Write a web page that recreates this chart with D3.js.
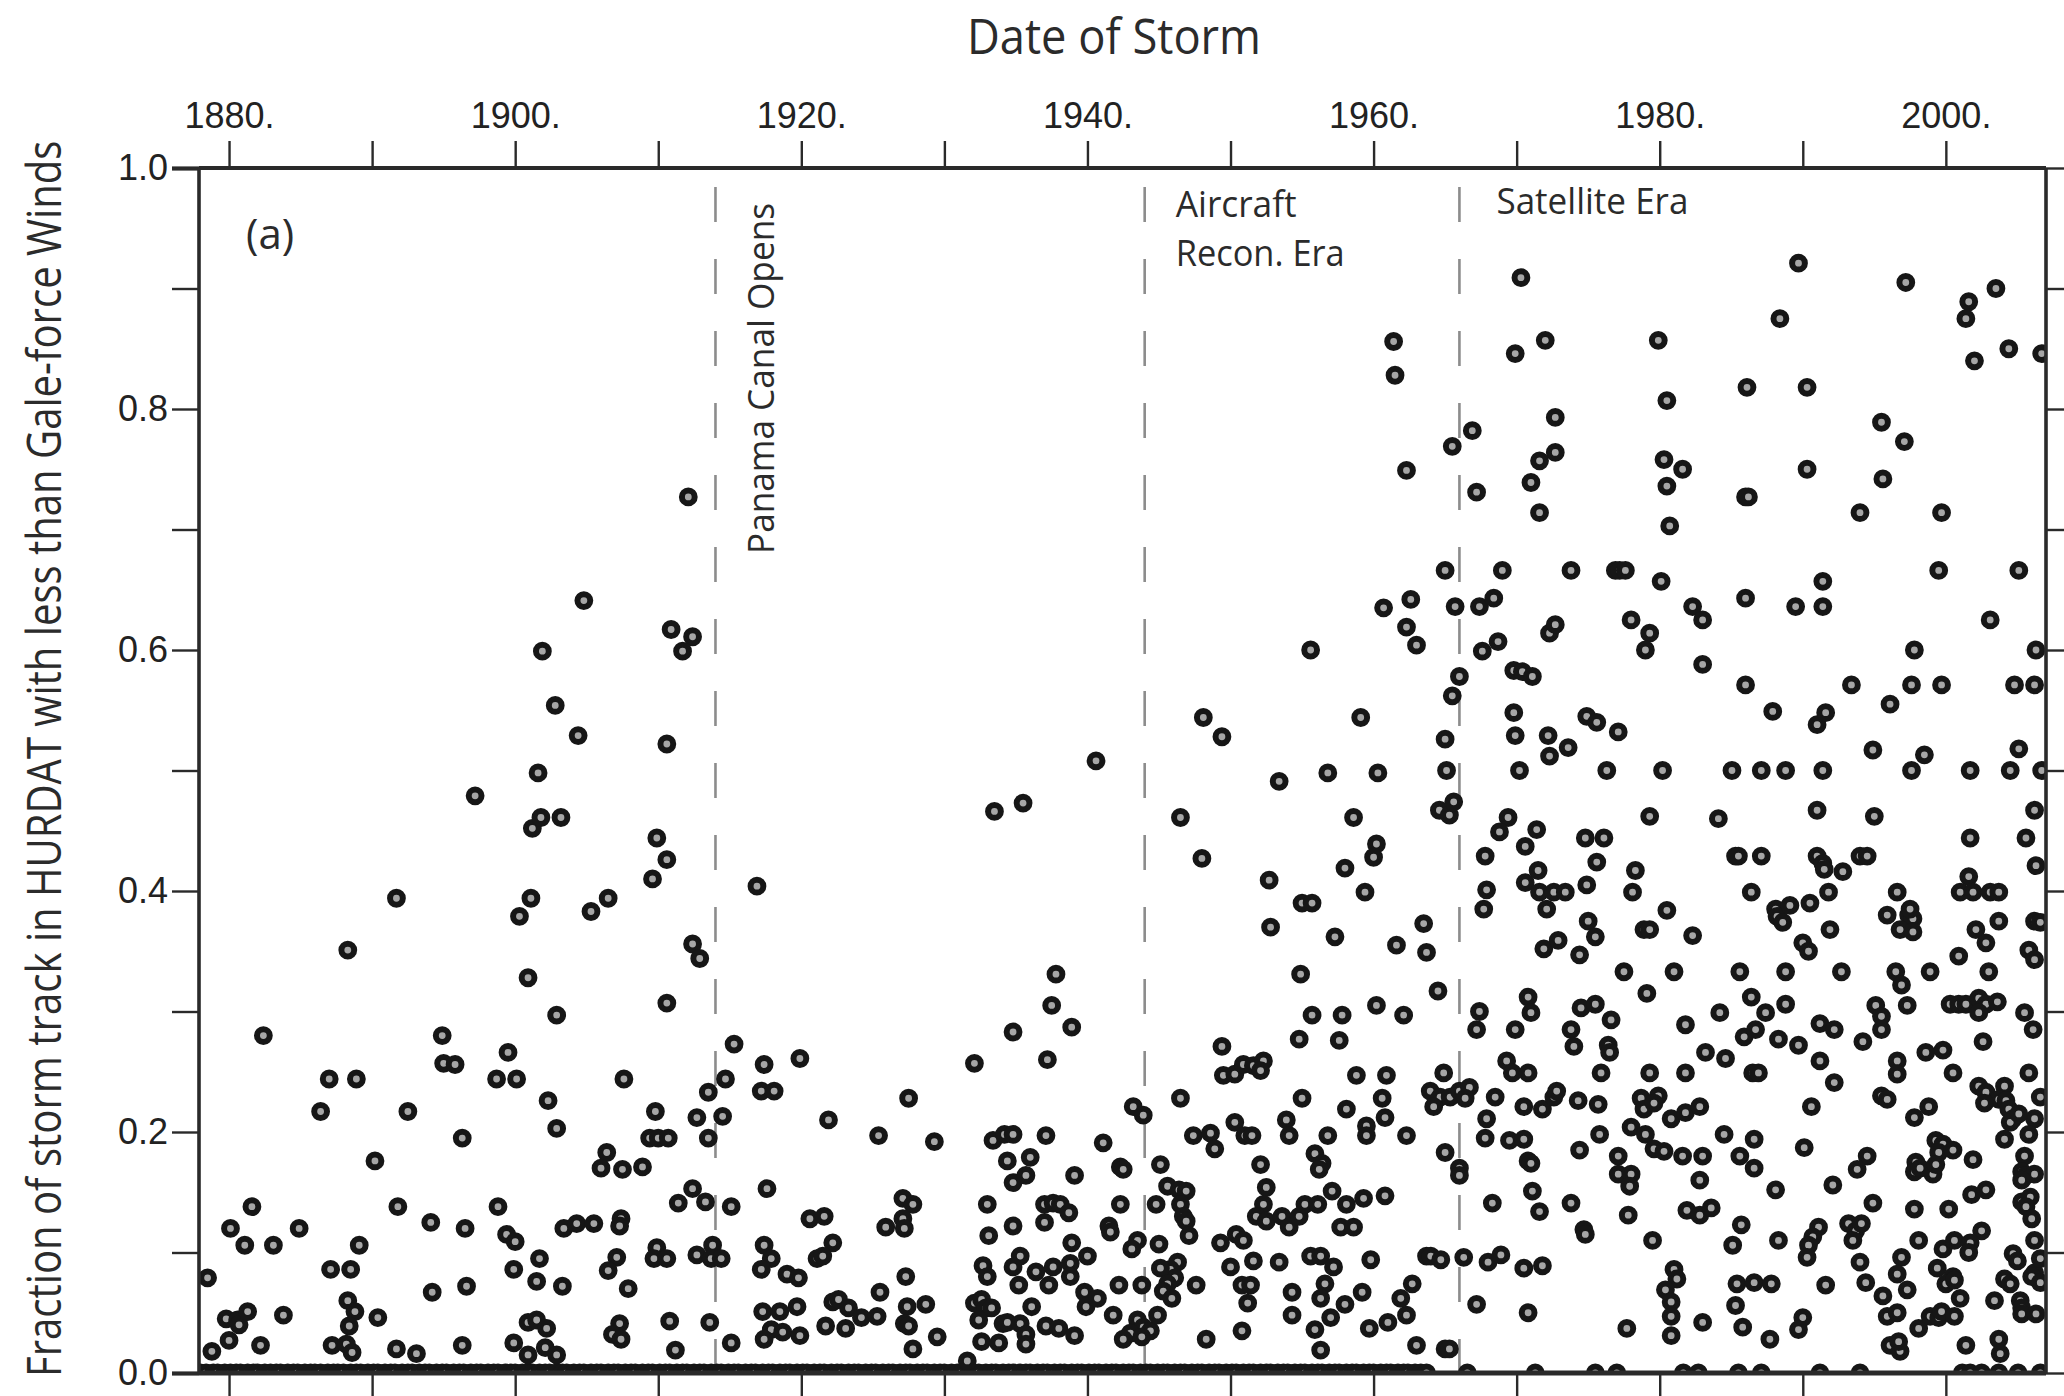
<!DOCTYPE html>
<html>
<head>
<meta charset="utf-8">
<script src="https://cdn.jsdelivr.net/npm/d3@7"></script>
<style>
  html, body { margin: 0; padding: 0; background: #ffffff; }
  svg { display: block; }
</style>
</head>
<body>
<svg id="chart" width="2064" height="1396"></svg>
<script>
// Axis ticks and labels
const decadeTicks = [1880, 1890, 1900, 1910, 1920, 1930, 1940, 1950, 1960, 1970, 1980, 1990, 2000];
const labelledYears = [1880, 1900, 1920, 1940, 1960, 1980, 2000];
const fractionTicks = [0, 0.1, 0.2, 0.3, 0.4, 0.5, 0.6, 0.7, 0.8, 0.9, 1.0];
const labelledFractions = [0, 0.2, 0.4, 0.6, 0.8, 1.0];

// Observing-era boundaries (dashed lines)
const eraYears = [1914, 1944, 1966];

// Storms: [year, fraction of track below gale force]
const stormsBeforeCanal = [
  [1878.5,0.079],[1878.8,0.018],[1880.1,0.120],[1879.8,0.045],[1880.6,0.044],[1880.7,0.040],[1880.0,0.027],
  [1881.3,0.051],[1881.1,0.106],[1881.6,0.138],[1882.4,0.280],[1882.2,0.023],[1883.1,0.106],[1883.8,0.048],
  [1884.9,0.120],[1886.4,0.217],[1887.0,0.244],[1887.1,0.086],[1887.2,0.023],[1888.3,0.351],[1888.5,0.086],
  [1888.3,0.060],[1888.8,0.051],[1888.4,0.039],[1888.2,0.024],[1888.6,0.017],[1888.9,0.244],[1889.1,0.106],
  [1890.2,0.176],[1890.4,0.046],[1891.7,0.394],[1891.8,0.138],[1892.5,0.217],[1891.7,0.020],[1893.1,0.016],
  [1894.1,0.125],[1894.2,0.067],[1894.9,0.280],[1895.0,0.257],[1895.8,0.256],[1896.3,0.195],[1896.5,0.120],
  [1896.6,0.072],[1896.3,0.023],[1897.2,0.479],[1898.7,0.244],[1899.5,0.266],[1900.1,0.244],[1898.8,0.138],
  [1899.4,0.115],[1900.0,0.109],[1899.9,0.086],[1899.9,0.025],[1900.9,0.015],[1900.9,0.042],[1901.5,0.044],
  [1902.2,0.037],[1902.1,0.021],[1902.9,0.015],[1901.5,0.076],[1901.7,0.095],[1903.3,0.072],[1900.3,0.379],
  [1901.1,0.394],[1901.2,0.452],[1901.8,0.461],[1903.2,0.461],[1900.9,0.328],[1902.9,0.297],[1902.3,0.226],
  [1902.9,0.203],[1903.4,0.120],[1904.3,0.124],[1905.5,0.124],[1905.3,0.383],[1906.5,0.394],[1906.4,0.183],
  [1906.0,0.170],[1907.5,0.169],[1908.9,0.171],[1907.6,0.244],[1907.4,0.128],[1907.3,0.122],[1907.1,0.096],
  [1906.5,0.085],[1907.9,0.070],[1907.3,0.041],[1906.8,0.032],[1907.4,0.028],[1909.9,0.444],[1910.6,0.426],
  [1909.6,0.410],[1910.6,0.307],[1909.8,0.217],[1909.4,0.195],[1910.0,0.195],[1910.7,0.195],[1909.9,0.104],
  [1909.7,0.095],[1910.6,0.095],[1910.8,0.043],[1911.2,0.019],[1911.4,0.141],[1912.4,0.153],[1913.3,0.142],
  [1912.4,0.356],[1912.9,0.344],[1912.7,0.212],[1913.5,0.233],[1913.5,0.195],[1912.7,0.098],[1913.8,0.106],
  [1913.7,0.095],[1913.6,0.042],
  [1912.1,0.727],[1904.8,0.641],[1910.9,0.617],[1912.4,0.611],[1911.7,0.599],[1901.9,0.599],[1902.8,0.554],
  [1904.4,0.529],[1910.6,0.522],[1901.6,0.498]
];

const stormsCanalEra = [
  [1914.4,0.095],[1914.7,0.244],[1914.5,0.213],[1915.3,0.273],[1916.9,0.404],[1915.1,0.138],[1915.1,0.025],
  [1917.4,0.256],[1917.2,0.234],[1918.1,0.234],[1917.6,0.153],[1917.4,0.106],[1917.9,0.095],[1917.2,0.086],
  [1917.3,0.051],[1918.5,0.051],[1919.7,0.055],[1917.9,0.036],[1917.4,0.028],[1918.7,0.034],[1919.9,0.031],
  [1919.0,0.082],[1919.8,0.079],[1919.9,0.261],[1920.6,0.128],[1921.1,0.095],
  [1921.6,0.130],[1921.9,0.210],[1922.2,0.108],[1921.5,0.097],[1925.4,0.197],[1927.5,0.228],[1929.3,0.192],
  [1927.1,0.145],[1927.8,0.140],[1927.1,0.128],[1927.2,0.120],[1925.9,0.121],[1927.3,0.080],[1925.5,0.067],
  [1922.2,0.059],[1922.6,0.061],[1923.3,0.054],[1924.2,0.046],[1925.3,0.047],[1921.7,0.039],[1923.1,0.037],
  [1927.4,0.055],[1928.7,0.057],[1927.2,0.041],[1927.5,0.039],[1929.5,0.030],[1927.8,0.020],[1931.6,0.010],
  [1932.1,0.257],[1933.5,0.466],[1935.5,0.473],[1934.8,0.283],[1937.2,0.260],[1937.5,0.305],[1937.8,0.331],
  [1938.9,0.287],[1933.4,0.193],[1934.2,0.198],[1934.8,0.198],[1937.1,0.197],[1934.4,0.176],[1936.0,0.179],
  [1934.8,0.158],[1935.7,0.164],[1939.1,0.164],[1941.1,0.191],[1942.3,0.171],[1942.5,0.169],[1943.2,0.221],
  [1943.9,0.214],[1933.0,0.140],[1933.1,0.114],[1934.8,0.122],[1937.0,0.140],[1937.6,0.141],[1938.1,0.140],
  [1937.0,0.125],[1938.7,0.133],[1941.5,0.122],[1941.6,0.117],[1942.3,0.140],[1938.9,0.108],[1940.0,0.097],
  [1935.3,0.097],[1932.7,0.089],[1933.0,0.080],[1934.8,0.088],[1935.2,0.073],[1936.4,0.084],[1937.6,0.088],
  [1937.3,0.073],[1938.8,0.091],[1938.8,0.080],[1932.1,0.058],[1932.6,0.061],[1932.9,0.054],[1933.3,0.054],
  [1932.4,0.044],[1932.6,0.026],[1933.8,0.025],[1934.1,0.041],[1934.4,0.042],[1935.3,0.041],[1935.7,0.032],
  [1935.7,0.024],[1936.1,0.055],[1937.1,0.039],[1938.0,0.037],[1939.1,0.031],[1939.8,0.067],[1939.9,0.055],
  [1940.7,0.062],[1941.8,0.048],[1942.2,0.073],[1943.8,0.073],[1943.5,0.110],[1943.1,0.103],[1943.5,0.044],
  [1943.9,0.038],[1944.4,0.035],[1943.0,0.033],[1942.5,0.028],[1943.8,0.030],[1940.6,0.508]
];

const stormsReconEra = [
  [1944.8,0.140],[1945.0,0.107],[1944.9,0.048],[1945.1,0.173],[1946.5,0.228],[1946.5,0.461],[1948.0,0.427],
  [1945.6,0.155],[1946.4,0.152],[1946.9,0.151],[1946.5,0.140],[1946.7,0.130],[1946.9,0.126],[1947.1,0.114],
  [1946.3,0.092],[1945.8,0.086],[1946.1,0.079],[1945.1,0.087],[1945.6,0.074],[1945.3,0.068],[1945.9,0.062],
  [1947.6,0.073],[1948.3,0.028],[1947.4,0.197],[1948.6,0.199],[1948.9,0.186],[1949.4,0.271],[1949.5,0.247],
  [1950.3,0.248],[1950.9,0.256],[1951.6,0.255],[1952.3,0.259],[1952.1,0.251],[1950.3,0.208],[1951.0,0.197],
  [1951.5,0.197],[1952.1,0.173],[1952.7,0.409],[1952.8,0.370],[1953.4,0.491],[1954.9,0.331],[1955.0,0.390],
  [1955.7,0.390],[1956.8,0.498],[1957.3,0.362],[1958.0,0.419],[1958.6,0.461],[1959.4,0.399],[1960.2,0.439],
  [1960.0,0.428],[1960.3,0.498],[1954.8,0.277],[1955.7,0.297],[1957.8,0.297],[1957.6,0.276],[1955.0,0.228],
  [1958.8,0.247],[1960.9,0.247],[1960.6,0.228],[1960.2,0.305],[1962.1,0.297],[1961.6,0.355],[1963.5,0.373],
  [1963.7,0.349],[1958.1,0.219],[1960.8,0.212],[1959.5,0.205],[1959.5,0.197],[1962.3,0.197],[1953.9,0.210],
  [1954.1,0.197],[1956.8,0.197],[1955.9,0.182],[1956.4,0.174],[1956.2,0.169],[1952.5,0.154],[1952.3,0.140],
  [1951.8,0.130],[1952.5,0.126],[1953.6,0.130],[1954.1,0.121],[1954.8,0.130],[1955.2,0.140],[1956.1,0.140],
  [1957.1,0.151],[1958.1,0.140],[1957.7,0.121],[1958.6,0.121],[1959.3,0.145],[1960.8,0.147],[1949.3,0.108],
  [1950.4,0.115],[1950.9,0.110],[1950.0,0.088],[1951.6,0.093],[1950.8,0.073],[1951.4,0.073],[1951.2,0.058],
  [1950.8,0.035],[1953.4,0.092],[1954.3,0.067],[1954.3,0.048],[1955.6,0.097],[1956.3,0.097],[1957.2,0.088],
  [1956.6,0.074],[1956.3,0.062],[1957.0,0.046],[1955.9,0.036],[1956.3,0.019],[1958.0,0.057],[1959.2,0.067],
  [1959.8,0.094],[1959.7,0.037],[1961.0,0.042],[1962.3,0.048],[1962.7,0.074],[1961.9,0.062],[1963.0,0.023],
  [1963.7,0.097],
  [1961.4,0.856],[1961.5,0.828],[1962.3,0.749],[1960.7,0.635],[1962.6,0.642],[1962.3,0.619],[1963.0,0.604],
  [1955.6,0.600],[1948.1,0.544],[1949.4,0.528],[1959.1,0.544],
  [1964.6,0.467],[1965.3,0.463],[1965.6,0.474],[1964.5,0.317],[1964.9,0.249],[1963.96,0.234],[1964.65,0.229],
  [1965.35,0.229],[1966.0,0.234],[1964.2,0.221],[1965.0,0.183],[1966.0,0.170],[1966.0,0.164],[1964.0,0.097],
  [1964.7,0.094],[1965.0,0.020],[1965.3,0.020],
  [1965.5,0.769],[1965.0,0.666],[1965.7,0.636],[1966.0,0.578],[1965.5,0.562],[1965.0,0.526],[1965.1,0.5]
];

const stormsSatelliteEra = [
  [1970.3,0.909],[1969.9,0.846],[1972.0,0.857],[1966.9,0.782],[1972.7,0.793],[1972.7,0.764],[1971.6,0.757],
  [1971.0,0.739],[1967.2,0.731],[1971.6,0.714],[1969.0,0.666],[1973.8,0.666],[1976.9,0.666],[1977.2,0.666],
  [1977.6,0.666],[1967.4,0.636],[1968.4,0.643],[1968.7,0.607],[1967.6,0.599],[1972.3,0.614],[1972.7,0.621],
  [1969.8,0.583],[1970.4,0.582],[1971.1,0.578],[1969.8,0.548],[1969.9,0.529],[1972.2,0.529],[1972.3,0.512],
  [1973.6,0.519],[1974.9,0.545],[1975.6,0.540],[1977.1,0.532],[1979.9,0.857],[1980.5,0.807],[1980.3,0.758],
  [1981.6,0.750],[1980.5,0.736],[1980.7,0.703],[1980.1,0.657],[1978.0,0.625],[1979.3,0.614],[1979.0,0.600],
  [1982.3,0.636],[1983.0,0.625],[1983.0,0.588],[1986.1,0.818],[1986.0,0.727],[1986.2,0.727],[1986.0,0.643],
  [1986.0,0.571],[1987.9,0.549],[1988.4,0.875],[1989.7,0.921],[1990.3,0.818],[1990.3,0.750],[1989.5,0.636],
  [1991.4,0.657],[1991.4,0.636],[1991.0,0.538],[1991.6,0.548],[1993.4,0.571],[1994.0,0.714],[1994.9,0.517],
  [1995.5,0.789],[1995.6,0.742],[1997.1,0.773],[1997.2,0.905],[1996.1,0.555],[1997.8,0.600],[1997.6,0.571],
  [1998.5,0.513],[1999.7,0.714],[1999.5,0.666],[1999.7,0.571],[2001.6,0.889],[2001.4,0.875],[2003.5,0.900],
  [2002.0,0.840],[2004.4,0.850],[2006.7,0.846],[2005.1,0.666],[2003.1,0.625],[2004.8,0.571],[2006.2,0.571],
  [2006.3,0.600],[2005.1,0.518],
  [1970.2,0.5],[1976.3,0.5],[1980.2,0.5],[1985.05,0.5],[1987.1,0.5],[1988.8,0.5],[1991.4,0.5],[1997.6,0.5],
  [2001.7,0.5],[2004.5,0.5],[2006.7,0.5],
  [1966.7,0.237],[1966.4,0.228],[1966.3,0.096],
  [1969.4,0.461],[1968.8,0.449],[1971.4,0.451],[1970.6,0.437],[1967.8,0.429],[1967.9,0.401],[1967.7,0.385],
  [1971.5,0.417],[1970.6,0.407],[1971.6,0.399],[1972.6,0.399],[1973.4,0.399],[1972.1,0.385],[1971.9,0.352],
  [1972.9,0.359],[1967.4,0.300],[1967.2,0.285],[1969.9,0.285],[1970.8,0.312],[1971.0,0.299],[1969.3,0.259],
  [1969.7,0.249],[1970.8,0.249],[1968.5,0.229],[1970.5,0.221],[1971.8,0.219],[1967.9,0.211],[1967.8,0.195],
  [1969.5,0.193],[1970.5,0.194],[1970.8,0.176],[1971.0,0.174],[1971.1,0.151],[1971.6,0.134],[1968.3,0.141],
  [1967.2,0.057],[1968.0,0.092],[1968.9,0.098],[1970.5,0.087],[1971.8,0.089],[1970.8,0.050],
  [1972.6,0.229],[1972.8,0.234],[1974.3,0.226],[1974.8,0.444],[1976.1,0.444],[1975.6,0.424],[1974.9,0.405],
  [1975.0,0.375],[1975.5,0.362],[1974.4,0.347],[1974.5,0.303],[1975.5,0.306],[1973.8,0.285],[1974.0,0.271],
  [1976.6,0.293],[1976.4,0.272],[1976.5,0.266],[1975.9,0.249],[1975.7,0.223],[1975.8,0.198],[1974.4,0.185],
  [1977.1,0.180],[1977.1,0.165],[1978.0,0.165],[1977.9,0.155],[1973.8,0.141],[1974.7,0.119],[1974.8,0.115],
  [1977.8,0.131],[1977.7,0.037],
  [1978.3,0.417],[1978.1,0.399],[1979.3,0.462],[1977.5,0.333],[1981.0,0.333],[1980.5,0.384],[1978.9,0.368],
  [1979.3,0.368],[1982.3,0.363],[1979.1,0.315],[1981.8,0.289],[1979.3,0.249],[1978.7,0.228],[1978.9,0.219],
  [1979.9,0.230],[1979.6,0.224],[1980.8,0.211],[1981.8,0.216],[1982.8,0.221],[1981.8,0.249],[1978.0,0.204],
  [1979.0,0.198],[1979.6,0.186],[1980.3,0.184],[1981.6,0.180],[1983.0,0.180],[1982.8,0.160],[1981.9,0.135],
  [1982.8,0.131],[1983.6,0.137],[1979.5,0.110],[1981.0,0.086],[1981.2,0.078],[1980.4,0.069],[1980.8,0.059],
  [1980.8,0.047],[1980.8,0.031],[1983.0,0.042],[1984.1,0.460],
  [1985.3,0.429],[1985.5,0.429],[1987.1,0.429],[1986.4,0.399],[1988.1,0.385],[1988.2,0.379],[1988.6,0.374],
  [1989.1,0.388],[1985.6,0.333],[1988.8,0.333],[1984.2,0.299],[1986.4,0.312],[1987.4,0.299],[1985.9,0.279],
  [1986.7,0.285],[1983.2,0.266],[1984.6,0.261],[1988.3,0.277],[1988.8,0.306],[1989.7,0.272],[1986.5,0.249],
  [1986.9,0.249],[1984.5,0.198],[1986.6,0.194],[1985.6,0.180],[1986.6,0.170],[1988.1,0.152],[1985.7,0.123],
  [1985.1,0.106],[1988.3,0.110],[1985.4,0.074],[1986.6,0.075],[1987.8,0.074],[1985.3,0.056],[1985.8,0.038],
  [1987.7,0.028],
  [1991.0,0.467],[1995.0,0.462],[1991.0,0.429],[1991.4,0.423],[1991.5,0.418],[1992.8,0.416],[1994.0,0.429],
  [1994.5,0.429],[1991.8,0.399],[1990.5,0.390],[1991.9,0.368],[1990.0,0.357],[1990.4,0.350],[1992.7,0.333],
  [1991.2,0.290],[1992.2,0.285],[1994.2,0.275],[1991.2,0.259],[1992.2,0.241],[1990.6,0.221],[1990.1,0.187],
  [1994.5,0.180],[1993.8,0.169],[1992.1,0.156],[1994.9,0.141],[1991.1,0.121],[1990.7,0.113],[1990.4,0.106],
  [1990.3,0.096],[1993.2,0.124],[1993.7,0.118],[1994.1,0.124],[1993.5,0.110],[1994.0,0.092],[1991.6,0.073],
  [1994.4,0.075],[1990.0,0.046],[1989.7,0.036],
  [1996.6,0.399],[1995.9,0.380],[1997.4,0.380],[1997.7,0.377],[1996.8,0.368],[1997.7,0.366],[1997.5,0.385],
  [1996.5,0.333],[1996.9,0.322],[1998.9,0.333],[1995.1,0.305],[1995.5,0.296],[1995.5,0.285],[1997.3,0.305],
  [1996.6,0.259],[1996.6,0.248],[1998.6,0.266],[1999.8,0.268],[1995.5,0.230],[1995.9,0.227],[1998.8,0.221],
  [1997.8,0.212],[1999.3,0.193],[1999.8,0.190],[1999.5,0.183],[2000.5,0.185],[1997.9,0.175],[1997.8,0.167],
  [1998.2,0.170],[1999.1,0.165],[1999.3,0.173],[1997.8,0.136],[1998.1,0.110],[2000.2,0.136],[1996.9,0.096],
  [1996.6,0.082],[1997.3,0.069],[1995.6,0.064],[1995.9,0.047],[1996.6,0.050],[1996.1,0.023],[1996.8,0.018],
  [1996.7,0.026],[1998.1,0.037],[1999.8,0.103],[2000.6,0.110],[1999.4,0.087],[2000.5,0.080],[2000.0,0.074],
  [2000.6,0.077],[1998.9,0.047],[1999.5,0.046],[1999.7,0.051],[2000.6,0.047],[2001.0,0.062],
  [2001.7,0.444],[2005.6,0.444],[2001.6,0.412],[2001.0,0.399],[2001.9,0.399],[2003.1,0.399],[2003.7,0.399],
  [2003.7,0.375],[2002.1,0.368],[2002.8,0.357],[2006.2,0.467],[2006.3,0.421],[2006.2,0.375],[2006.6,0.374],
  [2000.9,0.346],[2003.0,0.333],[2005.8,0.351],[2006.2,0.343],[2000.3,0.306],[2000.9,0.306],[2001.4,0.306],
  [2002.3,0.311],[2002.8,0.306],[2003.6,0.308],[2002.3,0.299],[2005.5,0.299],[2006.1,0.285],[2002.6,0.275],
  [2000.5,0.249],[2005.8,0.249],[2002.3,0.238],[2002.8,0.233],[2004.1,0.238],[2003.7,0.227],[2004.2,0.226],
  [2002.7,0.224],[2004.4,0.219],[2006.6,0.229],[2006.2,0.211],[2004.7,0.211],[2004.5,0.208],[2005.1,0.215],
  [2004.1,0.194],[2005.8,0.198],[2001.9,0.177],[2005.5,0.180],[2005.3,0.167],[2005.6,0.164],[2006.2,0.165],
  [2005.3,0.160],[2001.8,0.148],[2002.8,0.152],[2005.3,0.142],[2005.9,0.146],[2005.6,0.138],[2006.0,0.128],
  [2002.5,0.118],[2001.7,0.108],[2001.6,0.100],[2004.7,0.099],[2005.0,0.093],[2006.2,0.110],[2006.2,0.083],
  [2006.0,0.080],[2006.6,0.095],[2006.6,0.075],[2004.1,0.078],[2004.5,0.074],[2003.4,0.060],[2005.2,0.060],
  [2005.3,0.054],[2005.3,0.049],[2006.3,0.049],[2001.4,0.023],[2003.7,0.028],[2003.8,0.016]
];

// Storms whose whole track stayed at or above gale force (fraction 0)
const zeroFractionYears = [
  1878.0,1878.4,1878.9,1879.2,1879.7,1880.1,1880.5,1880.8,1881.3,1881.7,1882.0,1882.5,1882.9,1883.3,1883.6,
  1884.1,1884.5,1884.8,1885.3,1885.7,1886.0,1886.4,1886.9,1887.3,1887.6,1888.0,1888.5,1888.9,1889.2,1889.7,
  1890.1,1890.4,1890.9,1891.3,1891.6,1892.1,1892.5,1892.8,1893.3,1893.7,1894.0,1894.5,1894.9,1895.2,1895.7,
  1896.1,1896.4,1896.9,1897.3,1897.6,1898.1,1898.5,1898.8,1899.3,1899.7,1900.0,1900.5,1900.9,1901.2,1901.7,
  1902.1,1902.4,1902.9,1903.3,1903.6,1904.1,1904.5,1904.8,1905.3,1905.7,1906.0,1906.5,1906.9,1907.2,1907.7,
  1908.1,1908.4,1908.9,1909.3,1909.6,1910.1,1910.5,1910.8,1911.3,1911.7,1912.0,1912.5,1912.9,1913.2,1913.7,
  1914.1,1914.4,1914.9,1915.3,1915.6,1916.1,1916.5,1916.8,1917.3,1917.7,1918.0,1918.5,1918.9,1919.2,1919.7,
  1920.1,1920.4,1920.9,1921.3,1921.6,1922.1,1922.5,1922.8,1923.3,1923.7,1924.0,1924.5,1924.9,1925.2,1925.7,
  1926.1,1926.4,1926.9,1927.3,1927.6,1928.1,1928.5,1928.8,1929.3,1929.7,1930.0,1930.5,1930.9,1931.2,1931.7,
  1932.1,1932.4,1932.9,1933.3,1933.6,1934.1,1934.5,1934.8,1935.3,1935.7,1936.0,1936.5,1936.9,1937.2,1937.7,
  1938.1,1938.4,1938.9,1939.3,1939.6,1940.1,1940.5,1940.8,1941.3,1941.7,1942.0,1942.5,1942.9,1943.2,1943.7,
  1944.1,1944.4,1944.9,1945.3,1945.6,1946.1,1946.5,1946.8,1947.3,1947.7,1948.0,1948.5,1948.9,1949.2,1949.7,
  1950.1,1950.4,1950.9,1951.3,1951.6,1952.1,1952.5,1952.8,1953.3,1953.7,1954.0,1954.5,1954.9,1955.2,1955.7,
  1956.1,1956.4,1956.9,1957.3,1957.6,1958.1,1958.5,1958.8,1959.3,1959.7,1960.0,1960.5,1960.9,1961.2,1961.7,
  1962.1,1962.4,1962.9,1963.3,1963.7,
  1966.55,1971.3,1975.5,1977.0,1981.65,1982.7,1985.5,1987.1,1991.2,1994.0,2001.15,2001.7,2002.5,2003.7,
  2005.05,2006.6
];

// ---- layout ----
const svg = d3.select("#chart");
const plot = { left: 199, right: 2046, top: 168, bottom: 1373 };
const ink = "#222222";

const x = d3.scaleLinear().domain([1877.9, 2007.0]).range([plot.left, plot.right]);
const y = d3.scaleLinear().domain([0, 1]).range([plot.bottom, plot.top]);

svg.append("rect").attr("width", 2064).attr("height", 1396).attr("fill", "#ffffff");

svg.append("clipPath").attr("id", "plot-clip")
  .append("rect")
  .attr("x", plot.left).attr("y", plot.top)
  .attr("width", plot.right - plot.left).attr("height", plot.bottom - plot.top);

// era boundary lines
svg.append("g").selectAll("line")
  .data(eraYears).join("line")
  .attr("x1", d => x(d)).attr("x2", d => x(d))
  .attr("y1", plot.top + 19).attr("y2", plot.bottom)
  .attr("stroke", "#8c8c8c").attr("stroke-width", 2.6)
  .attr("stroke-dasharray", "35,37");

// storm markers
const allStorms = [
  ...zeroFractionYears.map(yr => [yr, 0]),
  ...stormsBeforeCanal, ...stormsCanalEra, ...stormsReconEra, ...stormsSatelliteEra
];
svg.append("g").attr("clip-path", "url(#plot-clip)")
  .selectAll("circle")
  .data(allStorms).join("circle")
  .attr("cx", d => x(d[0])).attr("cy", d => y(d[1]))
  .attr("r", 6.4)
  .attr("fill", "#a6a6a6")
  .attr("stroke", "#161616")
  .attr("stroke-width", 6);

// axes
function styleAxis(g) {
  g.select(".domain").remove();
  g.selectAll(".tick line").attr("stroke", "#2a2a2a").attr("stroke-width", 2.4);
  g.selectAll(".tick text").attr("fill", ink)
    .style("font-family", "'Liberation Sans', Arial, Helvetica, sans-serif")
    .style("font-size", "36px");
}

svg.append("g").attr("transform", `translate(0,${plot.top})`)
  .call(d3.axisTop(x).tickValues(decadeTicks).tickSize(27).tickPadding(13)
    .tickFormat(d => labelledYears.includes(d) ? d + "." : ""))
  .call(styleAxis);

svg.append("g").attr("transform", `translate(0,${plot.bottom})`)
  .call(d3.axisBottom(x).tickValues(decadeTicks).tickSize(26).tickFormat(""))
  .call(styleAxis);

svg.append("g").attr("transform", `translate(${plot.left},0)`)
  .call(d3.axisLeft(y).tickValues(fractionTicks).tickSize(27).tickPadding(4)
    .tickFormat(d => labelledFractions.some(v => Math.abs(v - d) < 1e-9) ? d.toFixed(1) : ""))
  .call(styleAxis)
  .call(g => g.selectAll(".tick line")
    .filter(d => d === 0 || d === 1).attr("stroke-width", 4.2));

svg.append("g").attr("transform", `translate(${plot.right},0)`)
  .call(d3.axisRight(y).tickValues(fractionTicks).tickSize(22).tickFormat(""))
  .call(styleAxis);

// plot frame
const frame = svg.append("g").attr("stroke", "#2a2a2a").attr("fill", "none");
frame.append("line").attr("x1", plot.left).attr("x2", plot.right)
  .attr("y1", plot.top).attr("y2", plot.top).attr("stroke-width", 4.2);
frame.append("line").attr("x1", plot.left).attr("x2", plot.right)
  .attr("y1", plot.bottom).attr("y2", plot.bottom).attr("stroke-width", 5);
frame.append("line").attr("x1", plot.left).attr("x2", plot.left)
  .attr("y1", plot.top).attr("y2", plot.bottom).attr("stroke-width", 3.6);
frame.append("line").attr("x1", plot.right).attr("x2", plot.right)
  .attr("y1", plot.top).attr("y2", plot.bottom).attr("stroke-width", 3.6);

// titles and annotations
const labelFont = "'Open Sans', 'Noto Sans', sans-serif";
const textColor = "#2b2b2b";

svg.append("text")
  .attr("x", 967).attr("y", 54)
  .attr("textLength", 294).attr("lengthAdjust", "spacingAndGlyphs")
  .style("font-family", labelFont).style("font-size", "49px").attr("fill", textColor)
  .text("Date of Storm");

// y-axis title, narrowed along its own baseline
svg.append("text")
  .attr("transform", "translate(61,1377) rotate(-90) scale(0.835,1)")
  .style("font-family", labelFont).style("font-size", "48px").attr("fill", textColor)
  .text("Fraction of storm track in HURDAT with less than Gale-force Winds");

svg.append("text")
  .attr("x", 246).attr("y", 249)
  .style("font-family", labelFont).style("font-size", "42px").attr("fill", textColor)
  .text("(a)");

svg.append("text")
  .attr("transform", `translate(${x(eraYears[0]) + 59},554) rotate(-90)`)
  .attr("textLength", 351).attr("lengthAdjust", "spacingAndGlyphs")
  .style("font-family", labelFont).style("font-size", "36px").attr("fill", textColor)
  .text("Panama Canal Opens");

svg.append("text")
  .attr("x", x(eraYears[1]) + 31).attr("y", 217)
  .attr("textLength", 121).attr("lengthAdjust", "spacingAndGlyphs")
  .style("font-family", labelFont).style("font-size", "36px").attr("fill", textColor)
  .text("Aircraft");

svg.append("text")
  .attr("x", x(eraYears[1]) + 31).attr("y", 266)
  .attr("textLength", 169).attr("lengthAdjust", "spacingAndGlyphs")
  .style("font-family", labelFont).style("font-size", "36px").attr("fill", textColor)
  .text("Recon. Era");

svg.append("text")
  .attr("x", x(eraYears[2]) + 37).attr("y", 214)
  .attr("textLength", 192).attr("lengthAdjust", "spacingAndGlyphs")
  .style("font-family", labelFont).style("font-size", "36px").attr("fill", textColor)
  .text("Satellite Era");
</script>
</body>
</html>
